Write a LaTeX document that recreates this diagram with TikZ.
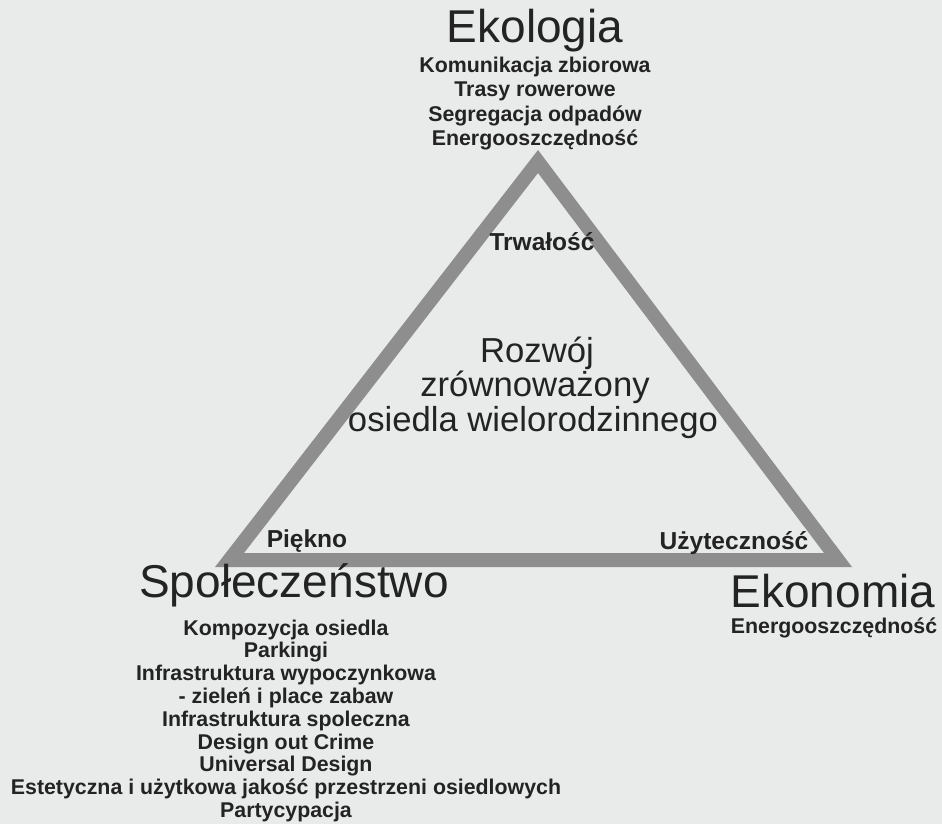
\documentclass[tikz,border=0pt]{standalone}
\usepackage{fontspec}
\setmainfont{Liberation Sans}
\definecolor{ink}{HTML}{232323}
\definecolor{band}{HTML}{8E8E8E}
\definecolor{paper}{HTML}{E9EBEB}
\begin{document}
\begin{tikzpicture}[x=0.75pt,y=-0.75pt,
  title/.style={font=\fontsize{34.5}{40}\selectfont, text=ink, inner sep=0pt, anchor=base},
  item/.style={font=\bfseries\fontsize{16}{18}\selectfont, text=ink, inner sep=0pt, anchor=base},
  corner/.style={font=\bfseries\fontsize{18.4}{22}\selectfont, text=ink, inner sep=0pt, anchor=base},
  hub/.style={font=\fontsize{26}{30}\selectfont, text=ink, inner sep=0pt, anchor=base}]
\fill[paper] (0,0) rectangle (942,824);
\useasboundingbox (0,0) rectangle (942,824);
% triangle band
\fill[band, even odd rule] (538,150) -- (215,567) -- (852,567) -- cycle
  (538,173) -- (244,553) -- (824,553) -- cycle;
% Ekologia
\node[title] (eko) at (535,43) {Ekologia};
\node[item] (eko1) at (535,73) {Komunikacja zbiorowa};
\node[item] (eko2) at (535,97) {Trasy rowerowe};
\node[item] (eko3) at (535,121) {Segregacja odpadów};
\node[item] (eko4) at (535,145) {Energooszczędność};
% corner labels
\node[corner] (trw) at (542,250) {Trwałość};
\node[corner] (pie) at (307,547) {Piękno};
\node[corner] (uzy) at (734,549) {Użyteczność};
% centre
\node[hub] (h1) at (537,362) {Rozwój};
\node[hub] (h2) at (535,396) {zrównoważony};
\node[hub] (h3) at (533,431) {osiedla wielorodzinnego};
% Ekonomia
\node[title] (ekn) at (833,607) {Ekonomia};
\node[item] (ekn1) at (834,633) {Energooszczędność};
% Spoleczenstwo
\node[title] (spo) at (294,597) {Społeczeństwo};
\foreach \t [count=\i from 0] in {Kompozycja osiedla,Parkingi,Infrastruktura wypoczynkowa,- zieleń i place zabaw,Infrastruktura spoleczna,Design out Crime,Universal Design,Estetyczna i użytkowa jakość przestrzeni osiedlowych,Partycypacja}
  \node[item] (spo\i) at (286,635+22.8*\i) {\t};
\end{tikzpicture}
\end{document}
